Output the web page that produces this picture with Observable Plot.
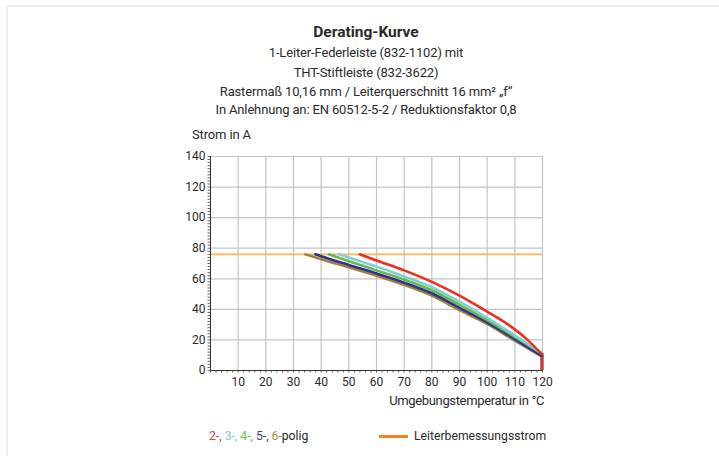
<!DOCTYPE html>
<html>
<head>
<meta charset="utf-8">
<script src="https://cdn.jsdelivr.net/npm/d3@7"></script>
<script src="https://cdn.jsdelivr.net/npm/@observablehq/plot@0.6"></script>
<style>
  html, body { margin: 0; padding: 0; background: #fff; }
  body { width: 719px; height: 456px; position: relative; overflow: hidden; font-family: Roboto, "Liberation Sans", sans-serif; color: #2a2a2a; }
  .frame { position: absolute; left: 6px; top: 5px; width: 800px; height: 600px; border-top: 2px solid #eceef2; border-left: 2px solid #eceef2; }
  .t { position: absolute; white-space: nowrap; }
  .c { left: 166px; width: 400px; text-align: center; }
  .title { font-weight: bold; font-size: 15.5px; line-height: 20px; top: 22px; }
  .sub { font-size: 13px; line-height: 20px; letter-spacing: -0.15px; }
  #chart { position: absolute; left: 0; top: 140px; }
  .legend { position: absolute; top: 427px; font-size: 12.2px; line-height: 18px; }
  .lline { position: absolute; left: 379px; top: 435px; width: 29px; height: 2.5px; background: #f5821f; }
</style>
</head>
<body>
<div class="frame"></div>
<div class="t c title">Derating-Kurve</div>
<div class="t c sub" style="top:43px">1-Leiter-Federleiste (832-1102) mit</div>
<div class="t c sub" style="top:63px">THT-Stiftleiste (832-3622)</div>
<div class="t c sub" style="top:82px">Rastermaß 10,16 mm / Leiterquerschnitt 16 mm² „f“</div>
<div class="t c sub" style="top:100px">In Anlehnung an: EN 60512-5-2 / Reduktionsfaktor 0,8</div>
<div class="t sub" style="left:192px; top:125px">Strom in A</div>
<div id="chart"></div>
<div class="t sub" style="left:344px; width:200px; text-align:right; top:391px; letter-spacing:-0.35px">Umgebungstemperatur in °C</div>
<div class="legend" style="left:209px" id="leg1"></div>
<div class="lline"></div>
<div class="legend" style="left:414px">Leiterbemessungsstrom</div>
<script>
// ---- data ----
const seriesNames = ["6-polig", "5-polig", "4-polig", "3-polig", "2-polig"];
const lineColors  = ["#9c8338", "#35308f", "#63bb50", "#80d0d6", "#ee2e24"];
const legendColors = { "2": "#ee3a32", "3": "#7ccfd4", "4": "#6abf58", "5": "#3f3a96", "6": "#a38a48" };

// curve points (temperature °C, current A); last point is where the curve drops vertically to 0
const temp6 = [34.3, 40, 50, 60, 70, 80, 90, 100, 110, 119.8];
const curr6 = [76, 72.8, 67.5, 62, 56, 49, 39.5, 30.5, 19.5, 9];
const temp5 = [37.9, 40, 50, 60, 70, 80, 90, 100, 110, 119.8];
const curr5 = [76, 74.7, 69, 63.5, 57.5, 50.5, 41, 31.5, 20.5, 9.5];
const temp4 = [42.8, 50, 60, 70, 80, 90, 100, 110, 120];
const curr4 = [76, 71.5, 65.5, 59.5, 52.5, 43, 33, 22, 11];
const temp3 = [46.4, 50, 60, 70, 80, 90, 100, 110, 119.8];
const curr3 = [76, 74, 68, 61.5, 54.5, 45, 34.5, 23, 11];
const temp2 = [54, 60, 70, 80, 90, 100, 108, 114, 119.8];
const curr2 = [76, 72, 65.5, 58, 49, 38.5, 29.5, 21, 10.5];

const ratedCurrent = [76];
const xTicks = [10, 20, 30, 40, 50, 60, 70, 80, 90, 100, 110, 120];
const yTicks = [0, 20, 40, 60, 80, 100, 120, 140];
const legendDigits = ["2", "3", "4", "5", "6"];

// ---- build ----
const temps = [temp6, temp5, temp4, temp3, temp2];
const currs = [curr6, curr5, curr4, curr3, curr2];
const rows = [];
const ends = [];
seriesNames.forEach((s, k) => {
  temps[k].forEach((t, j) => rows.push({ series: s, t, i: currs[k][j] }));
  const n = temps[k].length - 1;
  ends.push({ series: s, t: temps[k][n], i: currs[k][n] });
});

const minorX = d3.range(0, 121, 2);
const minorY = d3.range(0, 141, 2);

const chart = Plot.plot({
  width: 719, height: 270,
  marginLeft: 210, marginRight: 177, marginTop: 16, marginBottom: 40,
  x: { domain: [0, 120] },
  y: { domain: [0, 140] },
  color: { domain: seriesNames, range: lineColors },
  style: { fontFamily: "Roboto, sans-serif", fontSize: "12px", color: "#2a2a2a", background: "transparent", overflow: "visible" },
  marks: [
    Plot.gridX(xTicks, { stroke: "#c4c4c4", strokeOpacity: 1, strokeWidth: 1.2 }),
    Plot.gridY(yTicks.filter(d => d > 0), { stroke: "#c4c4c4", strokeOpacity: 1, strokeWidth: 1.2 }),
    Plot.axisX(minorX, { tickSize: 2.5, tickFormat: () => "", label: null, stroke: "#666" }),
    Plot.axisY(minorY, { tickSize: 2.5, tickFormat: () => "", label: null, stroke: "#666" }),
    Plot.axisX(xTicks, { tickSize: 0, tickPadding: 7, label: null, fontSize: 12 }),
    Plot.axisY(yTicks, { tickSize: 0, tickPadding: 5, label: null, fontSize: 12 }),
    Plot.ruleY(ratedCurrent, { stroke: "#f8b859", strokeWidth: 1.6 }),
    Plot.ruleX(ends, { x: "t", y1: 0, y2: "i", stroke: "series", strokeWidth: 2.6 }),
    Plot.line(rows, { x: "t", y: "i", z: "series", stroke: "series", strokeWidth: 2.6, strokeLinejoin: "round", curve: "monotone-x" }),
    Plot.ruleX([0], { stroke: "#333", strokeWidth: 1 }),
    Plot.ruleY([0], { stroke: "#333", strokeWidth: 1 })
  ]
});
document.getElementById("chart").appendChild(chart);

const leg = document.getElementById("leg1");
leg.innerHTML = legendDigits.map((d, k) =>
  `<span style="color:${legendColors[d]}">${d}-</span>` + (k < legendDigits.length - 1 ? `<span style="color:${legendColors[d]}">, </span>` : "")
).join("") + `polig`;
</script>
</body>
</html>
